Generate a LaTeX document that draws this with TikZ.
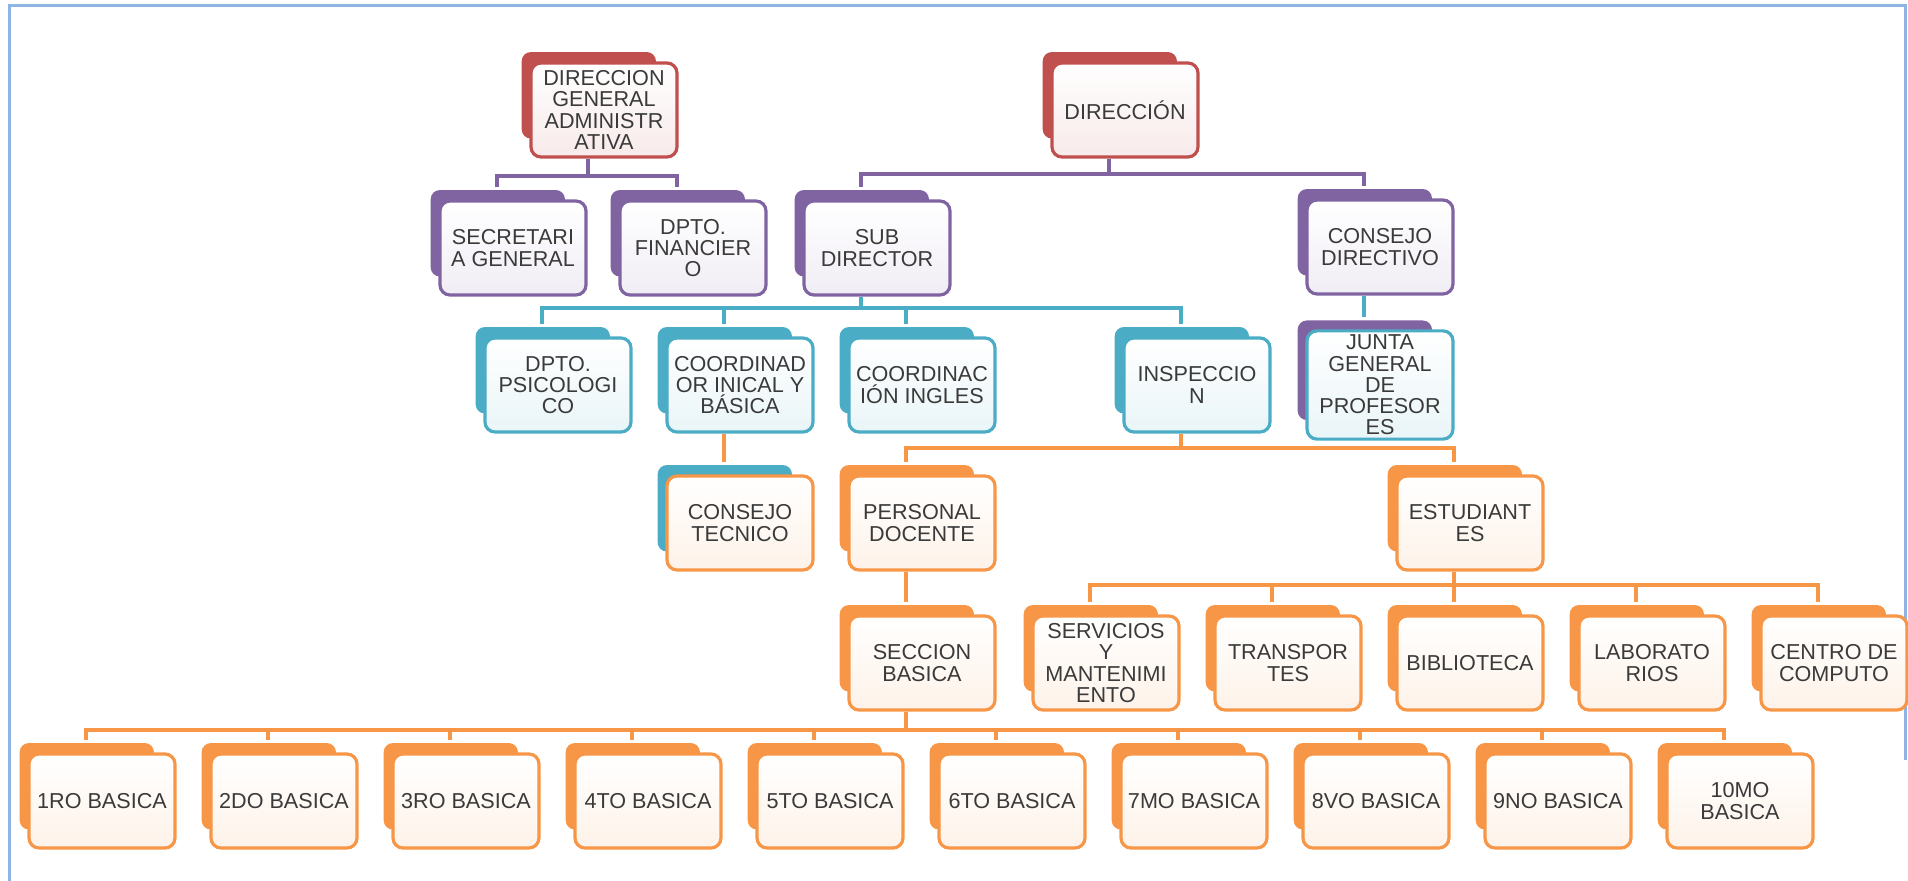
\documentclass[tikz,border=0pt]{standalone}
\usepackage{fontspec}
\setmainfont{Liberation Sans}
\usetikzlibrary{shadows}

\definecolor{ored}{HTML}{C0504D}
\definecolor{opurple}{HTML}{8064A2}
\definecolor{oteal}{HTML}{4BACC6}
\definecolor{oorange}{HTML}{F79646}
\definecolor{otext}{HTML}{3A3A3A}
\definecolor{oframe}{HTML}{8EB4E3}

\begin{document}
\begin{tikzpicture}[x=0.5pt, y=-0.5pt,
  unit/.style 2 args={draw=#1, line width=1.6pt, rounded corners=5pt,
    top color=white, bottom color=#1!12, text=otext,
    minimum width=73pt, minimum height=47pt, inner sep=2pt, align=center,
    font=\fontsize{10.8}{10.65}\selectfont,
    general shadow={fill=#2, shadow scale=0.92, shadow xshift=-8.25pt, shadow yshift=8pt}},
  redunit/.style={unit={ored}{ored}},
  purpleunit/.style={unit={opurple}{opurple}},
  tealunit/.style={unit={oteal}{oteal}},
  orangeunit/.style={unit={oorange}{oorange}},
  link/.style={draw=#1, line width=2pt}]

  \useasboundingbox (0,0) rectangle (1908,881);
  \draw[oframe, line width=1.5pt] (9,881) -- (9,6) -- (1905,6) -- (1905,760);

  % direccion
  \node[redunit] (dga) at (604,110) {DIRECCION\\GENERAL\\ADMINISTR\\ATIVA};
  \node[redunit] (dir) at (1125,110) {DIRECCIÓN};

  \node[purpleunit] (secre) at (513,248) {SECRETARI\\A GENERAL};
  \node[purpleunit] (finan) at (693,248) {DPTO.\\FINANCIER\\O};
  \node[purpleunit] (subdir) at (877,248) {SUB\\DIRECTOR};
  \node[purpleunit] (consdir) at (1380,247) {CONSEJO\\DIRECTIVO};

  % departamentos
  \node[tealunit] (psico) at (558,385) {DPTO.\\PSICOLOGI\\CO};
  \node[tealunit] (coord) at (740,385) {COORDINAD\\OR INICAL Y\\BÁSICA};
  \node[tealunit] (ingles) at (922,385) {COORDINAC\\IÓN INGLES};
  \node[tealunit] (insp) at (1197,385) {INSPECCIO\\N};
  \node[unit={oteal}{opurple}] (junta) at (1380,385) {JUNTA\\GENERAL\\DE\\PROFESOR\\ES};

  \node[unit={oorange}{oteal}] (tecnico) at (740,523) {CONSEJO\\TECNICO};
  \node[orangeunit] (docente) at (922,523) {PERSONAL\\DOCENTE};
  \node[orangeunit] (estud) at (1470,523) {ESTUDIANT\\ES};

  \node[orangeunit] (seccion) at (922,663) {SECCION\\BASICA};
  \node[orangeunit] (serv) at (1106,663) {SERVICIOS\\Y\\MANTENIMI\\ENTO};
  \node[orangeunit] (transp) at (1288,663) {TRANSPOR\\TES};
  \node[orangeunit] (biblio) at (1470,663) {BIBLIOTECA};
  \node[orangeunit] (labor) at (1652,663) {LABORATO\\RIOS};
  \node[orangeunit] (centro) at (1834,663) {CENTRO DE\\COMPUTO};

  % cursos
  \foreach \i/\txt in {1/1RO BASICA, 2/2DO BASICA, 3/3RO BASICA, 4/4TO BASICA, 5/5TO BASICA,
                       6/6TO BASICA, 7/7MO BASICA, 8/8VO BASICA, 9/9NO BASICA, 10/10MO\\BASICA}
    \node[orangeunit] (curso\i) at ({102+182*(\i-1)},801) {\txt};

  % lineas
  \foreach \c in {secre,finan}
    \draw[link=opurple] ([xshift=-8.25pt]dga.south) -- ++(0,17) -| ([xshift=-8.25pt,yshift=6pt]\c.north);
  \foreach \c in {subdir,consdir}
    \draw[link=opurple] ([xshift=-8.25pt]dir.south) -- ++(0,15) -| ([xshift=-8.25pt,yshift=6pt]\c.north);
  \foreach \c in {psico,coord,ingles,insp}
    \draw[link=oteal] ([xshift=-8.25pt]subdir.south) -- ++(0,11) -| ([xshift=-8.25pt,yshift=6pt]\c.north);
  \draw[link=oteal] ([xshift=-8.25pt]consdir.south) -- ([xshift=-8.25pt,yshift=6pt]junta.north);
  \draw[link=oorange] ([xshift=-8.25pt]coord.south) -- ([xshift=-8.25pt,yshift=6pt]tecnico.north);
  \foreach \c in {docente,estud}
    \draw[link=oorange] ([xshift=-8.25pt]insp.south) -- ++(0,14) -| ([xshift=-8.25pt,yshift=6pt]\c.north);
  \draw[link=oorange] ([xshift=-8.25pt]docente.south) -- ([xshift=-8.25pt,yshift=6pt]seccion.north);
  \foreach \c in {serv,transp,biblio,labor,centro}
    \draw[link=oorange] ([xshift=-8.25pt]estud.south) -- ++(0,13) -| ([xshift=-8.25pt,yshift=6pt]\c.north);
  \foreach \i in {1,...,10}
    \draw[link=oorange] ([xshift=-8.25pt]seccion.south) -- ++(0,18) -| ([xshift=-8.25pt,yshift=6pt]curso\i.north);

\end{tikzpicture}
\end{document}
